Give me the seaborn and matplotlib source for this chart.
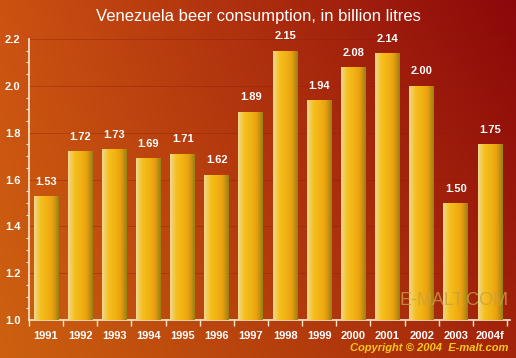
import numpy as np
import pandas as pd
import seaborn as sns
import matplotlib.pyplot as plt
from matplotlib.colors import LinearSegmentedColormap

years = ['1991', '1992', '1993', '1994', '1995', '1996', '1997',
         '1998', '1999', '2000', '2001', '2002', '2003', '2004f']
consumption = [1.53, 1.72, 1.73, 1.69, 1.71, 1.62, 1.89,
               2.15, 1.94, 2.08, 2.14, 2.00, 1.50, 1.75]

df = pd.DataFrame({'year': years, 'litres': consumption})

sns.set_style('white')
plt.rcParams['font.family'] = ['Liberation Sans', 'DejaVu Sans']

fig = plt.figure(figsize=(5.16, 3.58), dpi=100)

# background gradient: orange lower-left to dark red upper-right
bg = fig.add_axes([0, 0, 1, 1], zorder=0)
xx, yy = np.meshgrid(np.linspace(0, 1, 200), np.linspace(0, 1, 140))
c_tl = np.array([0.80, 0.32, 0.07])
c_tr = np.array([0.55, 0.03, 0.04])
c_bl = np.array([0.80, 0.38, 0.06])
c_br = np.array([0.64, 0.14, 0.04])
img = (c_tl * ((1 - xx) * (1 - yy))[..., None] + c_tr * (xx * (1 - yy))[..., None]
       + c_bl * ((1 - xx) * yy)[..., None] + c_br * (xx * yy)[..., None])
bg.imshow(img, aspect='auto', extent=[0, 1, 0, 1], origin='upper')
bg.axis('off')

ax = fig.add_axes([0.056, 0.106, 0.932, 0.785], zorder=1)
ax.patch.set_alpha(0)
sns.barplot(data=df, x='year', y='litres', color='#f2b81c', width=0.73,
            saturation=1, linewidth=0, edgecolor='none', ax=ax, zorder=3)

# gold shading inside each bar
bar_cmap = LinearSegmentedColormap.from_list(
    'beer', ['#f0d890', '#f5c020', '#f2b414', '#eaa010', '#9a8014'])
grad = np.linspace(0, 1, 100).reshape(1, -1)
for p in ax.patches:
    x0, y0 = p.get_x(), p.get_y()
    w, h = p.get_width(), p.get_height()
    im = ax.imshow(grad, cmap=bar_cmap, aspect='auto',
                   extent=[x0, x0 + w, 1.0, y0 + h], zorder=3.5)
    im.set_clip_path(p)
    ax.text(x0 + w / 2, y0 + h + 0.04, f'{h:.2f}', ha='center', va='bottom',
            color='white', fontsize=8, fontweight='bold', zorder=5)

ax.set_ylim(1.0, 2.2)
ax.set_xlim(-0.47, 13.58)
ax.set_yticks(np.arange(1.0, 2.21, 0.2))
ax.set_yticklabels([f'{v:.1f}' for v in np.arange(1.0, 2.21, 0.2)])
ax.set_yticks(np.arange(1.0, 2.21, 0.05), minor=True)
ax.set_xticks(np.arange(-0.5, 14, 1), minor=True)
for v in np.arange(1.2, 2.21, 0.2):
    ax.axhline(v, color='#8a1a08', lw=0.7, alpha=0.35, zorder=1)

for s in ['top', 'right']:
    ax.spines[s].set_visible(False)
for s in ['left', 'bottom']:
    ax.spines[s].set_color('#f4ead0')
    ax.spines[s].set_linewidth(1.2)
ax.tick_params(axis='y', which='major', length=5, color='#f4ead0', width=1,
               labelcolor='white', labelsize=8, pad=1)
ax.tick_params(axis='y', which='minor', length=2.5, color='#f4ead0', width=0.8, left=True)
ax.tick_params(axis='x', which='major', length=0, labelcolor='white', labelsize=8, pad=8)
ax.tick_params(axis='x', which='minor', length=4, color='#f4ead0', width=1, bottom=True)
for lbl in ax.get_xticklabels() + ax.get_yticklabels():
    lbl.set_fontweight('bold')
ax.set_xlabel('')
ax.set_ylabel('')

fig.text(0.5, 0.955, 'Venezuela beer consumption, in billion litres', ha='center',
         va='center', color='white', fontsize=12)
fig.text(0.88, 0.162, 'E-MALT.COM', ha='center', va='center', color='#c8a040',
         fontsize=13, alpha=0.8, zorder=6)
fig.text(0.985, 0.027, 'Copyright \u00a9 2004  E-malt.com', ha='right', va='center',
         color='#f8c818', fontsize=8, fontweight='bold', style='italic')

fig.savefig('out.png', dpi=100)
